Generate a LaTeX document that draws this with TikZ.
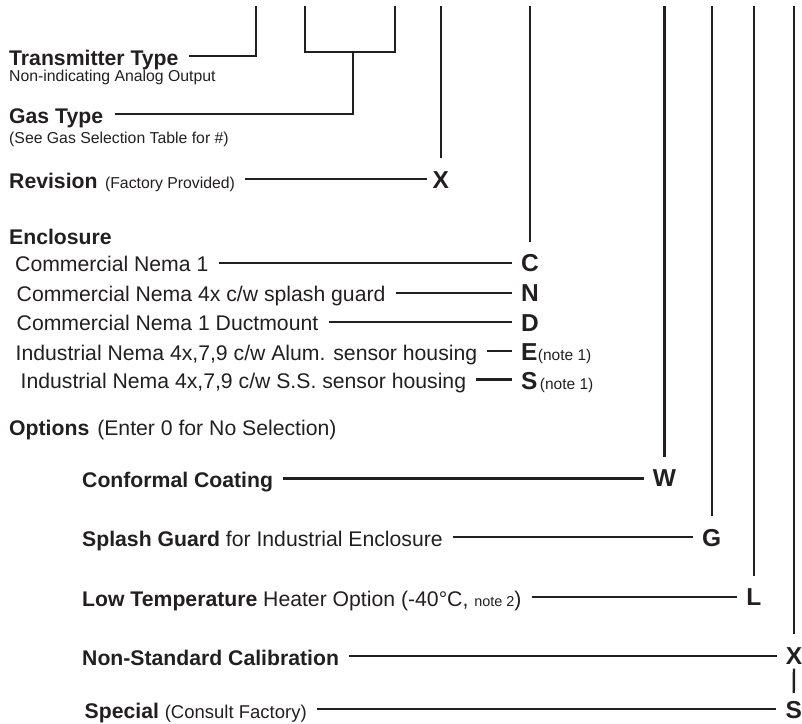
\documentclass[tikz,border=0pt]{standalone}
\usepackage{fontspec}
\setmainfont{Liberation Sans}
\definecolor{ink}{RGB}{35,31,32}
\newcommand{\bigsz}{\fontsize{21.2}{25}\selectfont}
\newcommand{\smallsz}{\fontsize{15.8}{19}\selectfont}
\newcommand{\notesz}{\fontsize{15.5}{18}\selectfont}
\newcommand{\codesz}{\fontsize{24.5}{28}\selectfont\bfseries}

\begin{document}
\begin{tikzpicture}[x=1pt,y=-1pt,
        lbl/.style={anchor=base west,inner sep=0pt,text height=18pt,
            text depth=0pt,font=\bigsz,text=ink},
        sub/.style={anchor=base west,inner sep=0pt,font=\smallsz,text=ink},
        code/.style={anchor=base,inner sep=0pt,text height=18pt,
            text depth=0pt,font=\codesz,text=ink},
        wire/.style={draw=ink,line width=2.4pt},
        conn/.style={wire,shorten <=10pt,shorten >=9pt},
        riser/.style={wire,shorten <=12pt}]
    \useasboundingbox (0,0) rectangle (802,723);

    \coordinate (top) at (0,5.5);
    \coordinate (t1) at (256,5.5);
    \coordinate (t2) at (305,5.5);
    \coordinate (t3) at (395,5.5);
    \coordinate (gj) at (353,52);

    \node[lbl] (tt) at (9,65) {\textbf{Transmitter Type}};
    \node[sub] (tts) at (9,81) {Non-indicating Analog Output};
    \node[lbl] (gt) at (9,123) {\textbf{Gas Type}};
    \node[sub] (gts) at (9,143) {(See Gas Selection Table for \#)};
    \node[lbl] (rv) at (9,188) {\textbf{Revision}\hspace{7.5pt}{\smallsz(Factory Provided)}};
    \node[code] (rx) at (440.8,188.3) {X};

    \draw[wire,shorten <=10pt] (tt.east) -| (t1);
    \draw[wire] (t2) |- (gj) -| (t3);
    \draw[wire,shorten <=12pt] (gt.east) -| (gj);
    \draw[conn,shorten >=5pt] (rv.east) -- (rv.east -| rx.west);
    \draw[riser] (rx.north) -- (rx.north |- top);

    \node[lbl] (enc) at (9,244) {\textbf{Enclosure}};
    \node[lbl] (e1) at (15,271.7) {Commercial Nema 1};
    \node[lbl] (e2) at (16.5,301.7) {Commercial Nema 4x c/w splash guard};
    \node[lbl] (e3) at (16.5,330.7) {Commercial Nema 1 Ductmount};
    \node[lbl] (e4) at (15.5,360) {Industrial Nema 4x,7,9 c/w Alum. sensor housing};
    \node[lbl] (e5) at (20.5,388.3) {Industrial Nema 4x,7,9 c/w S.S. sensor housing};
    \node[code,anchor=base west] (lc) at (521,271.7) {C};
    \node[code,anchor=base west] (ln) at (521,301.7) {N};
    \node[code,anchor=base west] (ld) at (521,331) {D};
    \node[code,anchor=base west] (le) at (521,360) {E};
    \node[code,anchor=base west] (ls) at (521,389) {S};
    \node[sub,font=\notesz] (n1) at (le.base east) {(note 1)};
    \node[sub,font=\notesz] (n2) at ([xshift=2pt]ls.base east) {(note 1)};

    \draw[conn] (e1.east) -- (e1.east -| lc.west);
    \draw[conn] (e2.east) -- (e2.east -| ln.west);
    \draw[conn] (e3.east) -- (e3.east -| ld.west);
    \draw[conn] (e4.east) -- (e4.east -| le.west);
    \draw[conn] (e5.east) -- (e5.east -| ls.west);
    \draw[riser] (lc.north) -- (lc.north |- top);

    \node[lbl] (opt) at (9,435) {\textbf{Options}\hspace{8pt}(Enter 0 for No Selection)};
    \node[lbl] (o1) at (82,487.5) {\textbf{Conformal Coating}};
    \node[lbl] (o2) at (82,546) {\textbf{Splash Guard} for Industrial Enclosure};
    \node[lbl] (o3) at (82,606) {\textbf{Low Temperature} Heater Option (-40°C, {\fontsize{14.4}{17}\selectfont note 2})};
    \node[lbl] (o4) at (82,665) {\textbf{Non-Standard Calibration}};
    \node[lbl] (o5) at (84.5,718) {\textbf{Special} {\fontsize{18.5}{22}\selectfont(Consult Factory)}};
    \node[code] (lw) at (664.5,486.7) {W};
    \node[code] (lg) at (711.7,546) {G};
    \node[code] (ll) at (753.8,605.7) {L};
    \node[code] (lx) at (794,664.3) {X};
    \node[code] (lsp) at (793.7,718) {S};

    \draw[conn] (o1.east) -- (o1.east -| lw.west);
    \draw[conn] (o2.east) -- (o2.east -| lg.west);
    \draw[conn] (o3.east) -- (o3.east -| ll.west);
    \draw[conn] (o4.east) -- (o4.east -| lx.west);
    \draw[conn] (o5.east) -- (o5.east -| lsp.west);
    \draw[riser] (lw.north) -- (lw.north |- top);
    \draw[riser] (lg.north) -- (lg.north |- top);
    \draw[riser] (ll.north) -- (ll.north |- top);
    \draw[riser] (lx.north) -- (lx.north |- top);
    \draw[wire,shorten <=4pt,shorten >=7pt] (lx.south) -- (lsp.north);
\end{tikzpicture}
\end{document}
